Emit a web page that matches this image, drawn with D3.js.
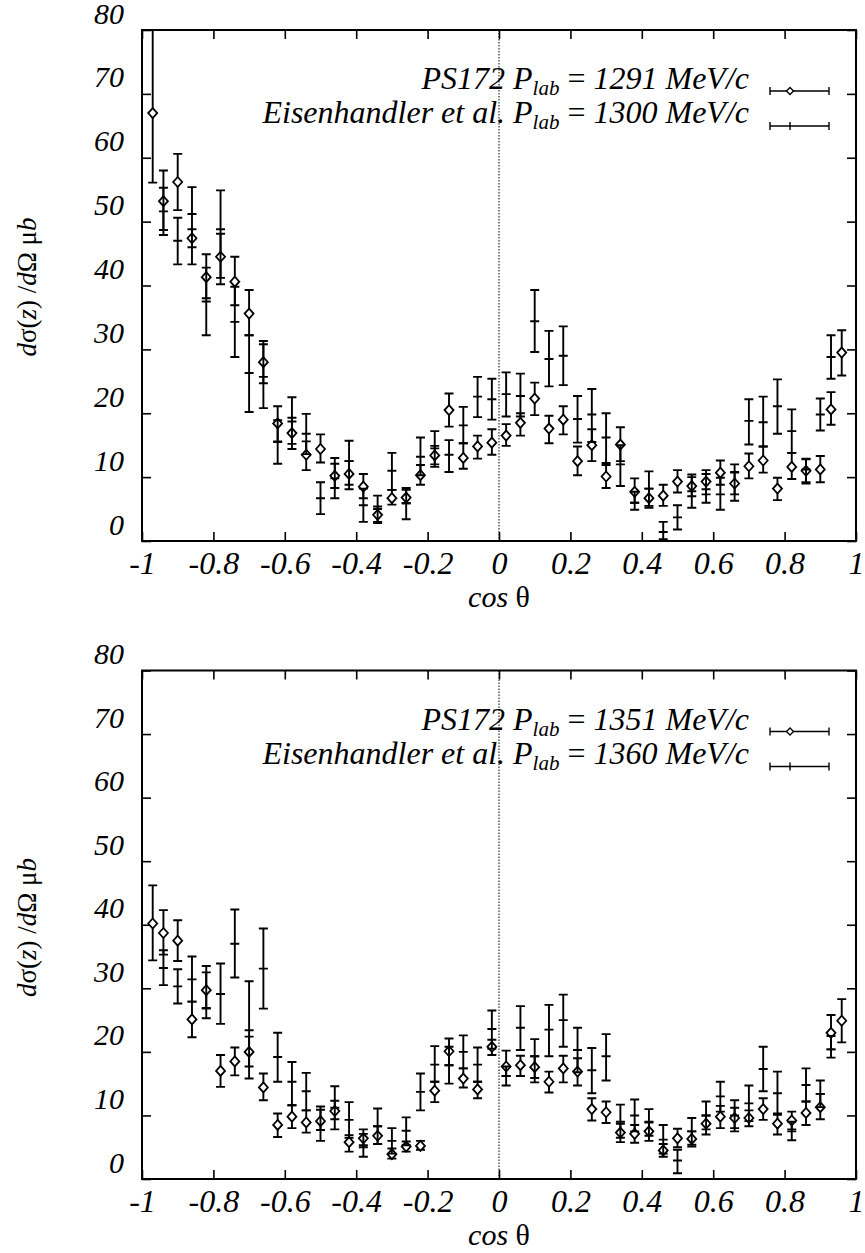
<!DOCTYPE html>
<html>
<head>
<meta charset="utf-8">
<title>pbar p differential cross sections</title>
<style>
    body { margin: 0; background: #fff; }
    .tick line { stroke: #000; stroke-width: 1.6; }
    .frame { fill: none; stroke: #000; stroke-width: 2; }
    .zero { stroke: #000; stroke-width: 1; stroke-dasharray: 1.5 1.5; }
    .bar { stroke: #000; stroke-width: 1.9; fill: none; }
    .diamond { fill: #fff; stroke: #000; stroke-width: 1.8; }
</style>
</head>
<body>
<svg id="chart" width="865" height="1253"></svg>
<script src="https://d3js.org/d3.v7.min.js"></script>
<script>
// angle bins (cos theta)
var cosPS = [-0.97, -0.94, -0.90, -0.86, -0.82, -0.78, -0.74, -0.70, -0.66, -0.62,
    -0.58, -0.54, -0.50, -0.46, -0.42, -0.38, -0.34, -0.30, -0.26, -0.22,
    -0.18, -0.14, -0.10, -0.06, -0.02, 0.02, 0.06, 0.10, 0.14, 0.18,
    0.22, 0.26, 0.30, 0.34, 0.38, 0.42, 0.46, 0.50, 0.54, 0.58,
    0.62, 0.66, 0.70, 0.74, 0.78, 0.82, 0.86, 0.90, 0.93, 0.96];
var cosEis = [-0.94, -0.90, -0.86, -0.82, -0.78, -0.74, -0.70, -0.66, -0.62,
    -0.58, -0.54, -0.50, -0.46, -0.42, -0.38, -0.34, -0.30, -0.26, -0.22,
    -0.18, -0.14, -0.10, -0.06, -0.02, 0.02, 0.06, 0.10, 0.14, 0.18,
    0.22, 0.26, 0.30, 0.34, 0.38, 0.42, 0.46, 0.50, 0.54, 0.58,
    0.62, 0.66, 0.70, 0.74, 0.78, 0.82, 0.86, 0.90, 0.93];

// top panel: PS172 1291 MeV/c
var ps1291 = [67.0, 53.2, 56.2, 47.4, 41.3, 44.5, 40.6, 35.6, 28.0, 18.4,
    16.9, 13.5, 14.4, 10.2, 10.5, 8.5, 4.1, 6.7, 6.8, 10.3,
    13.4, 20.5, 13.0, 14.8, 15.4, 16.5, 18.5, 22.3, 17.6, 19.0,
    12.5, 15.0, 10.1, 15.1, 7.7, 6.7, 7.1, 9.3, 8.6, 9.3,
    10.7, 9.0, 11.7, 12.6, 8.2, 11.6, 11.0, 11.2, 20.6, 29.5];
var ps1291Lo = [56.1, 47.9, 51.8, 46.0, 38.0, 41.2, 36.9, 32.2, 24.7, 15.6,
    14.4, 11.1, 12.3, 8.3, 8.8, 6.7, 2.8, 5.7, 5.9, 8.8,
    11.6, 17.9, 11.3, 12.9, 13.5, 14.9, 16.5, 19.7, 15.3, 16.7,
    10.3, 12.5, 8.3, 12.5, 6.0, 5.2, 5.5, 7.6, 7.0, 7.3,
    8.8, 7.3, 9.8, 10.7, 6.4, 9.7, 9.2, 9.2, 18.2, 25.9];
var ps1291Hi = [84.0, 58.0, 60.6, 48.8, 44.9, 48.1, 44.5, 39.3, 31.3, 21.1,
    19.3, 15.6, 16.7, 12.1, 12.5, 10.5, 5.4, 8.0, 8.3, 11.9,
    14.9, 23.1, 15.3, 16.5, 17.5, 18.3, 20.0, 24.8, 19.6, 21.1,
    14.8, 17.5, 11.9, 17.8, 9.8, 8.2, 8.8, 11.1, 10.4, 11.1,
    12.6, 10.7, 13.7, 14.8, 9.9, 13.8, 12.9, 13.3, 23.3, 33.0];

// top panel: Eisenhandler et al. 1300 MeV/c
var eis1300 = [51.6, 47.0, 51.2, 37.5, 48.8, 34.3, 26.3, 25.7, 15.5,
    18.7, 16.8, 6.7, 9.8, 12.5, 5.6, 5.0, 11.0, 5.9, 13.2,
    14.5, 13.5, 18.1, 22.6, 22.2, 23.0, 22.7, 34.4, 28.5, 29.0,
    19.1, 19.8, 16.2, 12.0, 6.0, 8.2, 1.4, 3.7, 7.8, 8.1,
    7.3, 10.8, 18.8, 18.6, 21.1, 17.2, 11.2, 19.8, 28.8];
var eis1300Lo = [48.7, 43.3, 43.3, 32.2, 40.2, 28.8, 20.2, 20.8, 12.1,
    15.2, 13.6, 4.2, 6.7, 8.1, 3.0, 3.0, 8.0, 3.4, 10.3,
    12.0, 10.8, 15.3, 19.4, 19.0, 19.5, 19.5, 29.6, 24.2, 24.4,
    15.4, 15.5, 12.2, 8.6, 4.9, 5.5, 0.3, 1.8, 5.2, 6.0,
    4.9, 6.3, 15.1, 14.8, 16.8, 13.8, 9.0, 17.3, 25.4];
var eis1300Hi = [55.3, 50.6, 55.4, 42.8, 54.9, 39.8, 32.2, 30.8, 18.9,
    22.5, 19.9, 9.2, 13.0, 15.7, 8.2, 7.1, 13.8, 8.0, 16.2,
    17.2, 15.8, 21.0, 25.7, 25.4, 26.4, 26.2, 39.3, 32.9, 33.6,
    22.7, 23.8, 20.0, 15.0, 7.7, 10.9, 3.0, 5.6, 10.0, 10.5,
    9.9, 12.0, 22.2, 22.6, 25.3, 20.6, 12.8, 22.3, 32.2];

// bottom panel: PS172 1351 MeV/c
var ps1351 = [40.2, 38.7, 37.5, 25.1, 29.7, 17.0, 18.5, 20.0, 14.4, 8.5,
    9.8, 8.9, 9.1, 10.7, 5.8, 6.4, 6.8, 3.9, 5.1, 5.2,
    13.9, 20.1, 15.8, 14.1, 20.8, 17.7, 17.9, 17.6, 15.3, 17.4,
    16.9, 11.0, 10.5, 7.3, 7.1, 7.5, 4.5, 6.4, 6.3, 8.7,
    9.8, 9.6, 9.6, 11.0, 8.7, 9.2, 10.4, 11.3, 23.0, 24.9];
var ps1351Lo = [34.4, 35.3, 34.3, 22.3, 26.9, 14.5, 16.3, 17.7, 12.4, 6.6,
    8.0, 7.3, 7.7, 9.4, 4.3, 5.0, 5.5, 3.2, 4.3, 4.6,
    12.1, 17.9, 14.4, 12.7, 19.5, 16.2, 16.2, 15.9, 13.6, 15.2,
    14.7, 9.2, 8.8, 5.8, 5.7, 6.0, 3.5, 5.0, 5.1, 7.0,
    8.0, 8.0, 8.3, 9.3, 7.0, 7.8, 8.5, 9.4, 20.4, 21.5];
var ps1351Hi = [46.2, 42.3, 40.7, 27.9, 32.5, 19.5, 20.7, 22.4, 16.6, 10.3,
    11.6, 10.8, 10.9, 12.3, 6.9, 7.8, 8.3, 4.8, 5.9, 6.0,
    15.3, 22.1, 17.4, 15.3, 21.9, 20.2, 19.4, 19.3, 16.9, 19.4,
    19.0, 12.7, 12.2, 8.7, 8.5, 9.0, 5.5, 7.9, 7.5, 10.0,
    11.5, 11.2, 10.8, 12.7, 10.3, 10.6, 12.2, 13.4, 25.8, 28.3];

// bottom panel: Eisenhandler et al. 1360 MeV/c
var eis1360 = [33.2, 30.3, 31.4, 26.8, 29.1, 37.0, 23.4, 33.1, 19.2,
    15.3, 13.8, 7.7, 11.2, 9.3, 5.3, 8.3, 6.0, 7.6, 13.7,
    18.0, 17.9, 20.0, 18.0, 23.6, 16.2, 23.8, 19.3, 23.5, 25.0,
    20.3, 17.1, 19.3, 9.0, 10.0, 8.9, 6.2, 2.9, 7.5, 10.0,
    13.0, 10.0, 11.9, 17.3, 13.5, 7.5, 14.8, 13.4, 20.4];
var eis1360Lo = [30.5, 27.6, 27.9, 25.3, 24.4, 31.7, 15.8, 26.8, 15.3,
    11.6, 10.8, 6.0, 7.8, 6.5, 3.5, 5.5, 4.0, 5.3, 10.8,
    15.3, 15.0, 17.4, 15.3, 20.5, 14.7, 20.3, 15.2, 19.3, 20.8,
    16.8, 13.5, 15.5, 6.5, 7.5, 6.8, 4.0, 0.9, 5.4, 7.8,
    10.6, 7.5, 9.1, 13.8, 10.1, 6.1, 12.2, 11.3, 19.1];
var eis1360Hi = [36.0, 33.0, 35.0, 33.5, 33.9, 42.4, 31.1, 39.4, 23.0,
    18.4, 16.7, 11.4, 14.6, 12.1, 7.1, 11.1, 8.0, 9.7, 16.6,
    20.9, 20.8, 22.6, 20.7, 26.5, 17.7, 27.2, 22.0, 27.4, 29.0,
    23.8, 20.6, 22.8, 11.7, 12.5, 11.0, 8.5, 4.6, 9.6, 12.2,
    15.3, 12.4, 14.7, 20.8, 16.9, 9.0, 17.4, 15.5, 22.5];

var yTicks = [0, 10, 20, 30, 40, 50, 60, 70, 80];
var xTicks = [-1, -0.8, -0.6, -0.4, -0.2, 0, 0.2, 0.4, 0.6, 0.8, 1];
var xTickLabels = ["-1", "-0.8", "-0.6", "-0.4", "-0.2", "0", "0.2", "0.4", "0.6", "0.8", "1"];

var panels = [
    { top: 30, bottom: 541, ps: [ps1291, ps1291Lo, ps1291Hi], eis: [eis1300, eis1300Lo, eis1300Hi],
      psLabel: "1291", eisLabel: "1300" },
    { top: 670.5, bottom: 1179, ps: [ps1351, ps1351Lo, ps1351Hi], eis: [eis1360, eis1360Lo, eis1360Hi],
      psLabel: "1351", eisLabel: "1360" }
];

var FONT = "'Liberation Serif', Tinos, 'Times New Roman', serif";
var svg = d3.select("#chart");
var left = 142, right = 856;
var x = d3.scaleLinear().domain([-1, 1]).range([left, right]);

panels.forEach(function (p, i) {
    var y = d3.scaleLinear().domain([0, 80]).range([p.bottom, p.top]);
    var g = svg.append("g");
    var clipId = "clip" + i;

    g.append("clipPath").attr("id", clipId)
        .append("rect")
        .attr("x", left).attr("y", p.top)
        .attr("width", right - left).attr("height", p.bottom - p.top);

    // inward ticks on all four sides
    var axL = g.append("g").attr("transform", "translate(" + left + ",0)")
        .call(d3.axisLeft(y).tickValues(yTicks).tickSize(-9).tickPadding(18).tickFormat(d3.format("d")));
    axL.selectAll("text").attr("dy", -7).style("font-size", "30px");
    g.append("g").attr("transform", "translate(" + right + ",0)")
        .call(d3.axisRight(y).tickValues(yTicks).tickSize(-9).tickFormat(""));
    var axB = g.append("g").attr("transform", "translate(0," + p.bottom + ")")
        .call(d3.axisBottom(x).tickValues(xTicks).tickSize(-9).tickPadding(10)
            .tickFormat(function (d, k) { return xTickLabels[k]; }));
    axB.selectAll("text").style("font-size", "32px");
    g.append("g").attr("transform", "translate(0," + p.top + ")")
        .call(d3.axisTop(x).tickValues(xTicks).tickSize(-9).tickFormat(""));
    g.selectAll(".domain").remove();
    g.selectAll(".tick text").style("font-family", FONT).style("font-style", "italic").style("fill", "#000");

    g.append("rect").attr("class", "frame")
        .attr("x", left).attr("y", p.top)
        .attr("width", right - left).attr("height", p.bottom - p.top);

    g.append("line").attr("class", "zero")
        .attr("x1", x(0)).attr("x2", x(0))
        .attr("y1", p.top).attr("y2", p.bottom);

    var plot = g.append("g").attr("clip-path", "url(#" + clipId + ")");

    function bars(xs, vals, withTick) {
        var data = xs.map(function (c, k) { return { c: c, v: vals[0][k], lo: vals[1][k], hi: vals[2][k] }; });
        var sel = plot.append("g").selectAll("g").data(data).enter().append("g");
        sel.append("path").attr("class", "bar")
            .attr("d", function (d) {
                var cx = x(d.c), a = y(d.lo), b = y(d.hi);
                var s = "M" + cx + "," + a + "V" + b +
                    "M" + (cx - 4.5) + "," + a + "H" + (cx + 4.5) +
                    "M" + (cx - 4.5) + "," + b + "H" + (cx + 4.5);
                if (withTick) s += "M" + (cx - 4.5) + "," + y(d.v) + "H" + (cx + 4.5);
                return s;
            });
        return sel;
    }

    var psSel = bars(cosPS, p.ps, false);
    psSel.append("path").attr("class", "diamond")
        .attr("d", function (d) {
            var cx = x(d.c), cy = y(d.v);
            return "M" + cx + "," + (cy - 5) + "L" + (cx + 4.5) + "," + cy +
                "L" + cx + "," + (cy + 5) + "L" + (cx - 4.5) + "," + cy + "Z";
        });
    bars(cosEis, p.eis, true);

    // legend
    var off = p.top - 30;
    var rows = [
        { pre: "PS172 ", num: p.psLabel, ty: 89, sy: 91, diamond: true },
        { pre: "Eisenhandler et al. ", num: p.eisLabel, ty: 123, sy: 126, diamond: false }
    ];
    rows.forEach(function (r) {
        var t = g.append("text")
            .attr("x", 749).attr("y", r.ty + off).attr("text-anchor", "end")
            .style("font-family", FONT).style("font-style", "italic").style("font-size", "32px");
        t.append("tspan").text(r.pre + "P");
        t.append("tspan").attr("dy", 6).style("font-size", "21px").text("lab");
        t.append("tspan").attr("dy", -6).text(" ");
        t.append("tspan").style("font-style", "normal").text("=");
        t.append("tspan").text(" " + r.num + " MeV/c");

        var sy = r.sy + off;
        g.append("path").attr("class", "bar").style("stroke-width", 1.4)
            .attr("d", "M770," + sy + "H829M770," + (sy - 4) + "V" + (sy + 4) + "M829," + (sy - 4) + "V" + (sy + 4) +
                (r.diamond ? "" : "M790," + (sy - 4) + "V" + (sy + 4)));
        if (r.diamond) {
            g.append("path").attr("class", "diamond").style("stroke-width", 1.4)
                .attr("d", "M790," + (sy - 3.5) + "L793.5," + sy + "L790," + (sy + 3.5) + "L786.5," + sy + "Z");
        }
    });

    // axis titles
    var yt = g.append("text").attr("transform", "translate(36," + (p.top + 257) + ") rotate(-90)")
        .attr("text-anchor", "middle")
        .style("font-family", FONT).style("font-size", "27px");
    yt.append("tspan").style("font-style", "italic").text("d");
    yt.append("tspan").text("σ(");
    yt.append("tspan").style("font-style", "italic").text("z");
    yt.append("tspan").text(") /");
    yt.append("tspan").style("font-style", "italic").text("d");
    yt.append("tspan").text("Ω μ");
    yt.append("tspan").style("font-style", "italic").text("b");

    var xt = g.append("text").attr("x", 499).attr("y", p.bottom + 66)
        .attr("text-anchor", "middle")
        .style("font-family", FONT).style("font-size", "30px");
    xt.append("tspan").style("font-style", "italic").text("cos ");
    xt.append("tspan").text("θ");
});
</script>
</body>
</html>
